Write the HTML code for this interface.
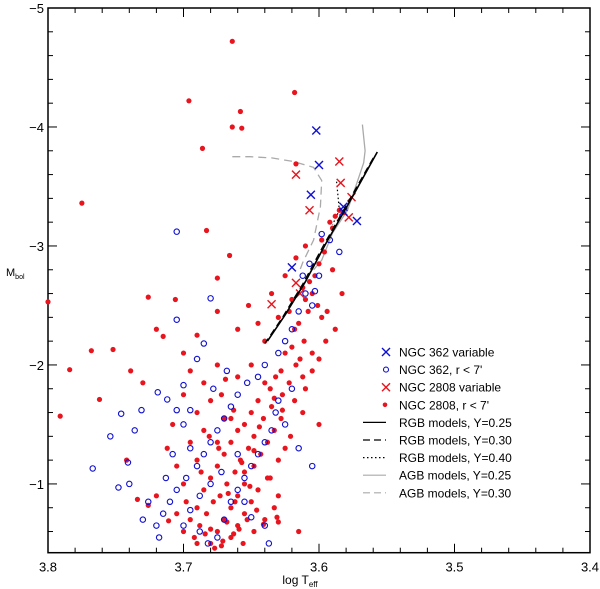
<!DOCTYPE html>
<html><head><meta charset="utf-8"><style>
body{margin:0;background:#fff;}
svg{display:block;font-family:"Liberation Sans",sans-serif;}
</style></head><body>
<svg id="chart" width="600" height="589"></svg>
<script>
const xDomain=[3.8,3.4];
const yDomain=[-5,-0.422];
const xTicks=[3.8,3.7,3.6,3.5,3.4];
const xTickLabels=["3.8","3.7","3.6","3.5","3.4"];
const yTicks=[-5,-4,-3,-2,-1];
const yTickLabels=["\u22125","\u22124","\u22123","\u22122","\u22121"];
const ngc362VarT=[3.602,3.600,3.606,3.620,3.582,3.572,3.582];
const ngc362VarM=[-3.97,-3.68,-3.43,-2.82,-3.33,-3.21,-3.29];
const ngc2808VarT=[3.585,3.617,3.584,3.607,3.576,3.578,3.617,3.635,3.614];
const ngc2808VarM=[-3.71,-3.60,-3.53,-3.30,-3.41,-3.24,-2.69,-2.51,-2.60];
const ngc362T=[3.705,3.680,3.705,3.685,3.746,3.754,3.741,3.748,3.767,3.736,3.731,3.719,3.712,3.705,3.700,3.695,
3.598,3.592,3.585,3.600,3.607,3.610,3.605,3.615,3.620,3.625,3.630,3.640,3.645,3.653,3.660,3.665,3.670,3.675,3.680,3.685,3.690,3.698,3.705,3.710,3.715,3.720,3.718,3.700,3.695,3.688,3.682,3.675,3.670,3.665,3.660,3.655,3.650,3.645,3.640,3.635,3.632,3.625,3.615,3.605,3.640,3.637,3.650,3.655,3.630,3.620,3.660,3.672,3.680,3.688,3.695,3.700,3.708,3.713,3.726,3.730,3.740,3.612,3.603,3.668,3.678,3.690];
const ngc362M=[-3.12,-2.56,-2.38,-2.18,-1.59,-1.40,-1.18,-0.97,-1.13,-1.45,-1.62,-1.77,-1.71,-1.62,-1.83,-1.62,
-3.10,-3.05,-2.95,-2.75,-2.85,-2.60,-2.50,-2.45,-2.30,-2.20,-2.10,-2.00,-1.90,-1.85,-1.75,-1.65,-1.55,-1.45,-1.35,-1.25,-1.15,-1.05,-0.95,-0.85,-0.75,-0.65,-0.55,-0.65,-0.78,-0.60,-0.50,-0.55,-0.70,-0.85,-0.95,-1.05,-1.15,-1.25,-1.35,-1.45,-1.60,-1.50,-1.30,-1.15,-0.65,-0.50,-0.72,-0.85,-1.70,-1.80,-1.25,-1.10,-1.00,-0.90,-1.30,-1.50,-1.25,-1.05,-0.85,-0.70,-1.00,-2.75,-2.62,-1.95,-1.80,-2.05];
const ngc2808T=[3.664,3.658,3.664,3.657,3.696,3.618,3.686,3.775,3.800,3.683,3.726,3.675,3.666,3.768,3.784,3.791,3.762,3.752,3.715,3.739,3.617,
3.598,3.592,3.588,3.585,3.582,3.590,3.596,3.600,3.603,3.607,3.605,3.610,3.612,3.601,3.608,3.598,3.615,3.618,3.611,3.620,3.605,3.625,3.617,3.628,3.612,3.632,3.622,3.636,3.640,3.627,3.645,3.618,3.635,3.650,3.641,3.628,3.655,3.633,3.648,3.660,3.638,3.652,3.665,3.625,3.643,3.658,3.670,3.630,3.648,3.662,3.675,3.638,3.655,3.668,3.680,3.645,3.660,3.673,3.685,3.650,3.665,3.678,3.690,3.655,3.670,3.683,3.695,3.660,3.675,3.688,3.700,3.665,3.680,3.692,3.672,3.656,3.648,3.640,3.633,3.630,3.615,3.630,
3.700,3.705,3.712,3.695,3.708,3.690,3.700,3.685,3.695,3.675,3.680,3.670,3.685,3.675,3.690,3.720,3.734,3.726,3.711,3.705,3.698,3.690,3.680,3.668,3.662,3.655,3.648,3.665,3.672,3.660,3.650,3.640,3.645,3.652,3.660,3.630,3.620,3.635,3.625,3.617,3.610,3.590,3.583,3.594,3.588,3.595,3.600,3.605,3.610,3.612,3.600,3.720,3.730,3.742,3.700,3.690,3.675,3.706,3.641,3.631,
3.663,3.671,3.677,3.684,3.659,3.653,3.646,3.667,3.674,3.681,3.687,3.657,3.651,3.663,3.669,3.644,3.636,3.621,3.627,3.633,3.614,3.622];
const ngc2808M=[-4.72,-4.13,-4.00,-3.99,-4.22,-4.29,-3.82,-3.36,-2.53,-3.13,-2.57,-2.73,-2.92,-2.12,-1.96,-1.57,-1.71,-2.13,-2.24,-1.95,-3.69,
-3.05,-3.20,-3.25,-3.30,-3.28,-3.15,-2.95,-2.85,-2.75,-2.70,-2.60,-2.55,-2.65,-2.50,-2.45,-2.40,-2.35,-2.30,-2.20,-2.15,-2.10,-2.10,-2.00,-1.95,-1.90,-1.90,-1.85,-1.80,-1.85,-1.75,-1.70,-1.70,-1.65,-1.60,-1.55,-1.55,-1.50,-1.45,-1.40,-1.45,-1.35,-1.30,-1.35,-1.30,-1.25,-1.20,-1.25,-1.20,-1.15,-1.10,-1.15,-1.05,-1.00,-1.00,-1.05,-0.95,-0.90,-0.90,-0.95,-0.85,-0.80,-0.85,-0.80,-0.75,-0.70,-0.75,-0.70,-0.65,-0.60,-0.65,-0.60,-0.55,-0.50,-0.55,-0.48,-0.50,-0.60,-0.70,-0.80,-0.90,-0.60,-0.68,
-1.00,-1.15,-1.30,-1.35,-1.50,-1.60,-1.75,-1.85,-1.95,-2.00,-1.70,-1.55,-1.45,-1.35,-1.20,-0.90,-0.87,-0.82,-0.69,-0.75,-0.85,-0.50,-0.62,-0.68,-0.85,-1.10,-1.28,-1.55,-1.75,-1.90,-2.00,-2.20,-2.35,-2.50,-2.30,-2.40,-2.55,-2.60,-2.75,-2.90,-3.00,-2.80,-2.60,-2.45,-2.30,-2.20,-2.05,-1.95,-1.80,-1.60,-1.50,-2.30,-1.85,-1.20,-2.10,-2.25,-2.45,-2.55,-0.66,-0.72,
-0.58,-0.52,-0.46,-0.58,-0.62,-0.70,-0.78,-0.92,-1.30,-1.40,-1.10,-1.18,-0.98,-1.62,-1.88,-1.48,-1.05,-1.40,-1.62,-1.72,-2.05,-2.45];
const rgb25T=[3.557,3.575,3.595,3.610,3.625,3.638];
const rgb25M=[-3.79,-3.42,-3.02,-2.70,-2.42,-2.20];
const rgb30T=[3.560,3.578,3.597,3.612,3.627,3.640];
const rgb30M=[-3.74,-3.38,-3.00,-2.68,-2.40,-2.18];
const rgb40T=[3.587,3.586,3.585,3.590];
const rgb40M=[-3.54,-3.42,-3.30,-3.18];
const agb25T=[3.568,3.566,3.567,3.572,3.579,3.590,3.598,3.604];
const agb25M=[-4.02,-3.80,-3.70,-3.53,-3.30,-3.11,-2.88,-2.80];
const agb30T=[3.664,3.651,3.635,3.619,3.604,3.598,3.599,3.604,3.612,3.614];
const agb30M=[-3.75,-3.75,-3.74,-3.71,-3.66,-3.55,-3.33,-3.05,-2.86,-2.80];

const L=48,R=590,T=8,B=552.7;
const xs=v=>L+(v-xDomain[0])/(xDomain[1]-xDomain[0])*(R-L);
const ys=v=>T+(v-yDomain[0])/(yDomain[1]-yDomain[0])*(B-T);
const NS='http://www.w3.org/2000/svg';
const svg=document.getElementById('chart');
function mk(tag,attrs,parent){const e=document.createElementNS(NS,tag);for(const k in attrs)e.setAttribute(k,attrs[k]);(parent||svg).appendChild(e);return e;}

// frame
const frame=mk('rect',{x:L,y:T,width:R-L,height:B-T,fill:'none',stroke:'#000','stroke-width':1.5});


// ticks
const tg=mk('g',{stroke:'#000','stroke-width':1});


for(let i=0;i<=20;i++){const v=3.8-i*0.02;const x=xs(v);const len=(i%5===0)?9:5;
 mk('line',{x1:x,y1:B,x2:x,y2:B-len},tg);mk('line',{x1:x,y1:T,x2:x,y2:T+len},tg);}
for(let i=0;i<=22;i++){const v=-5+i*0.2;if(v>yDomain[1])break;const y=ys(v);const len=(i%5===0)?9:5;
 mk('line',{x1:L,y1:y,x2:L+len,y2:y},tg);mk('line',{x1:R,y1:y,x2:R-len,y2:y},tg);}
xTicks.forEach((v,i)=>{const t=mk('text',{x:xs(v),y:B+19,'text-anchor':'middle','font-size':13});t.textContent=xTickLabels[i];
 
 });
yTicks.forEach((v,i)=>{const t=mk('text',{x:L-4,y:ys(v)+5,'text-anchor':'end','font-size':13});t.textContent=yTickLabels[i];
 
 });
const xt=mk('text',{x:300,y:584,'text-anchor':'middle','font-size':12});xt.innerHTML='log T<tspan font-size="8" dy="3">eff</tspan>';


const yt=mk('text',{x:6,y:276,'font-size':11});yt.innerHTML='M<tspan font-size="7" dy="3">bol</tspan>';



function line(tx,my,attrs,name){const d=tx.map((v,i)=>(i?'L':'M')+xs(v).toFixed(1)+' '+ys(my[i]).toFixed(1)).join(' ');
 const p=mk('path',Object.assign({d:d,fill:'none'},attrs));
 
 }
line(agb25T,agb25M,{stroke:'#aaa','stroke-width':1.3},'agb-y025-line');
line(agb30T,agb30M,{stroke:'#aaa','stroke-width':1.3,'stroke-dasharray':'8 5'},'agb-y030-line');
line(rgb40T,rgb40M,{stroke:'#000','stroke-width':1.2,'stroke-dasharray':'1.5 2.5'},'rgb-y040-line');

const red='#e8141e',blue='#1010d0';
ngc2808T.forEach((v,i)=>{const c=mk('circle',{cx:xs(v),cy:ys(ngc2808M[i]),r:2.6,fill:red});
 
 });
ngc362T.forEach((v,i)=>{const c=mk('circle',{cx:xs(v),cy:ys(ngc362M[i]),r:2.7,fill:'none',stroke:blue,'stroke-width':1.1});
 
 });
function cross(x,y,col,name){const g=mk('g',{stroke:col,'stroke-width':1.4});
 
 
 mk('line',{x1:x-4,y1:y-4,x2:x+4,y2:y+4},g);mk('line',{x1:x-4,y1:y+4,x2:x+4,y2:y-4},g);}
ngc2808VarT.forEach((v,i)=>cross(xs(v),ys(ngc2808VarM[i]),red,'ngc2808-variable'));
ngc362VarT.forEach((v,i)=>cross(xs(v),ys(ngc362VarM[i]),blue,'ngc362-variable'));
line(rgb30T,rgb30M,{stroke:'#000','stroke-width':1.2,'stroke-dasharray':'7 4'},'rgb-y030-line');
line(rgb25T,rgb25M,{stroke:'#000','stroke-width':1.6},'rgb-y025-line');

// legend
const legLabels=["NGC 362 variable","NGC 362, r < 7'","NGC 2808 variable","NGC 2808, r < 7'","RGB models, Y=0.25","RGB models, Y=0.30","RGB models, Y=0.40","AGB models, Y=0.25","AGB models, Y=0.30"];
const lg=mk('g',{});


legLabels.forEach((s,i)=>{const y=352+i*17.6;
 const t=mk('text',{x:399,y:y+4.5,'font-size':12},lg);t.textContent=s;
 
 
 if(i===0)cross(386,y,blue,'legend-symbol');
 if(i===1)mk('circle',{cx:386,cy:y,r:2.5,fill:'none',stroke:blue,'stroke-width':1.1},lg);
 if(i===2)cross(386,y,red,'legend-symbol');
 if(i===3)mk('circle',{cx:385,cy:y,r:2.3,fill:red},lg);
 const st=[null,null,null,null,{stroke:'#000'},{stroke:'#000','stroke-dasharray':'7 4'},{stroke:'#000','stroke-dasharray':'1.5 2.5'},{stroke:'#aaa'},{stroke:'#aaa','stroke-dasharray':'7 4'}][i];
 if(st)mk('line',Object.assign({x1:363,y1:y,x2:386,y2:y,'stroke-width':1.2},st),lg);
});
</script>
</body></html>
